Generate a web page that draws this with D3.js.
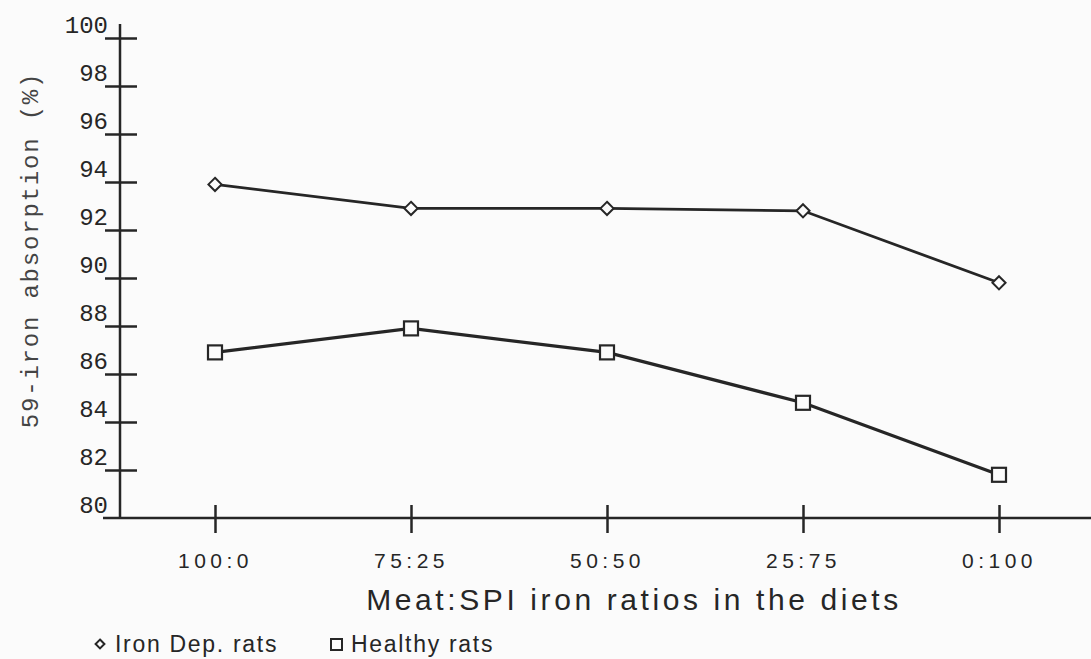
<!DOCTYPE html>
<html>
<head>
<meta charset="utf-8">
<script src="https://cdn.jsdelivr.net/npm/d3@7"></script>
<style>
  html, body { margin: 0; padding: 0; background: #fbfbfb; }
  svg { display: block; }
</style>
</head>
<body>
<div id="chart"></div>
<script>
// data
const ratios = ['100:0', '75:25', '50:50', '25:75', '0:100'];
const ironDep = [93.9, 92.9, 92.9, 92.8, 89.8];
const healthy = [86.9, 87.9, 86.9, 84.8, 81.8];
const yTicks = [80, 82, 84, 86, 88, 90, 92, 94, 96, 98, 100];

const width = 1091, height = 659;
const ink = '#262626';

const svg = d3.select('#chart')
    .append('svg')
    .attr('width', width)
    .attr('height', height);

const x = d3.scalePoint().domain(ratios).range([215, 999]);
const y = d3.scaleLinear().domain([80, 100]).range([518, 38]);
const axisX = 120;

// y axis
const gy = svg.append('g')
    .attr('transform', `translate(${axisX},0)`)
    .call(d3.axisLeft(y).tickValues(yTicks).tickFormat(d3.format('d')));
gy.select('.domain').remove();
gy.append('line')
    .attr('x1', 0).attr('x2', 0)
    .attr('y1', 24).attr('y2', y(80))
    .attr('stroke', ink).attr('stroke-width', 2.5);
gy.selectAll('.tick line')
    .attr('x1', -15).attr('x2', 17)
    .attr('stroke', ink).attr('stroke-width', 2.5)
    .filter(d => d === 80).remove();
gy.selectAll('.tick text')
    .attr('x', -12)
    .attr('y', -6)
    .attr('dy', 0)
    .attr('fill', ink)
    .attr('font-family', '"Liberation Mono", "Courier New", monospace')
    .attr('font-size', 24)
    .attr('text-anchor', 'end');

// x axis
const gx = svg.append('g')
    .attr('transform', `translate(0,${y(80)})`)
    .call(d3.axisBottom(x).tickSizeOuter(0));
gx.select('.domain').remove();
gx.append('line')
    .attr('x1', 103).attr('x2', width)
    .attr('y1', 0).attr('y2', 0)
    .attr('stroke', ink).attr('stroke-width', 2.5);
gx.selectAll('.tick line')
    .attr('y1', -13).attr('y2', 15)
    .attr('stroke', ink).attr('stroke-width', 2.5);
gx.selectAll('.tick text')
    .attr('y', 50)
    .attr('dy', 0)
    .attr('fill', ink)
    .attr('font-family', '"Liberation Sans", Arial, sans-serif')
    .attr('font-size', 21)
    .attr('letter-spacing', 4.5)
    .attr('text-anchor', 'middle');

// axis titles
svg.append('text')
    .attr('transform', 'translate(38,250) rotate(-90)')
    .attr('text-anchor', 'middle')
    .attr('fill', '#444')
    .attr('font-family', '"Liberation Mono", "Courier New", monospace')
    .attr('font-size', 24)
    .attr('letter-spacing', 1.8)
    .text('59-iron absorption (%)');

svg.append('text')
    .attr('x', 634)
    .attr('y', 610)
    .attr('text-anchor', 'middle')
    .attr('fill', ink)
    .attr('font-family', '"Liberation Sans", Arial, sans-serif')
    .attr('font-size', 30)
    .attr('letter-spacing', 3.6)
    .text('Meat:SPI iron ratios in the diets');

// series
const line = d3.line()
    .x((d, i) => x(ratios[i]))
    .y(d => y(d));

svg.append('path')
    .datum(ironDep)
    .attr('d', line)
    .attr('fill', 'none')
    .attr('stroke', ink)
    .attr('stroke-width', 2.8);

svg.append('path')
    .datum(healthy)
    .attr('d', line)
    .attr('fill', 'none')
    .attr('stroke', ink)
    .attr('stroke-width', 3.2);

const diamond = d3.symbol().type(d3.symbolDiamond2).size(110);
svg.append('g')
    .selectAll('path')
    .data(ironDep)
    .join('path')
    .attr('d', diamond)
    .attr('transform', (d, i) => `translate(${x(ratios[i])},${y(d)})`)
    .attr('fill', '#fbfbfb')
    .attr('stroke', ink)
    .attr('stroke-width', 2);

svg.append('g')
    .selectAll('rect')
    .data(healthy)
    .join('rect')
    .attr('x', (d, i) => x(ratios[i]) - 7)
    .attr('y', d => y(d) - 7)
    .attr('width', 14)
    .attr('height', 14)
    .attr('fill', '#fbfbfb')
    .attr('stroke', ink)
    .attr('stroke-width', 2.2);

// legend
const legend = svg.append('g')
    .attr('font-family', '"Liberation Sans", Arial, sans-serif')
    .attr('font-size', 23)
    .attr('fill', ink);

legend.append('path')
    .attr('d', d3.symbol().type(d3.symbolDiamond2).size(50))
    .attr('transform', 'translate(100,644)')
    .attr('fill', 'none')
    .attr('stroke', ink)
    .attr('stroke-width', 2);
legend.append('text')
    .attr('x', 115).attr('y', 652)
    .attr('letter-spacing', 1.7)
    .text('Iron Dep. rats');

legend.append('rect')
    .attr('x', 331).attr('y', 639)
    .attr('width', 11).attr('height', 11)
    .attr('fill', 'none')
    .attr('stroke', ink)
    .attr('stroke-width', 2);
legend.append('text')
    .attr('x', 351).attr('y', 652)
    .attr('letter-spacing', 1.7)
    .text('Healthy rats');
</script>
</body>
</html>
